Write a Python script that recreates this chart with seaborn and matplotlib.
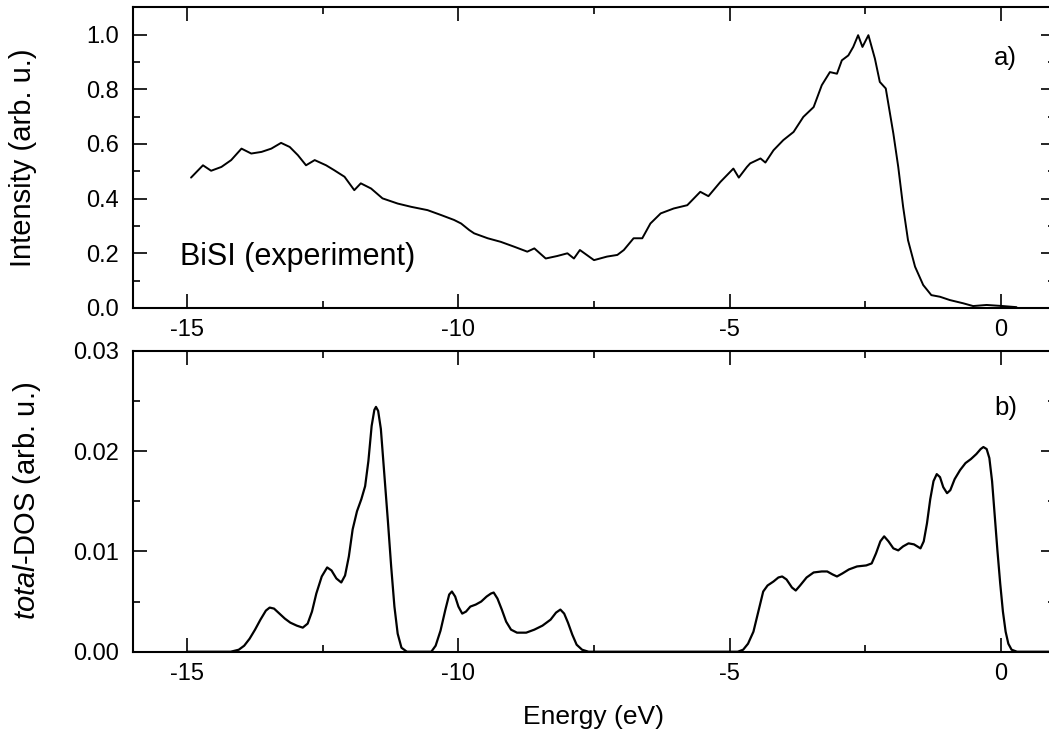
import matplotlib
matplotlib.use("Agg")
import matplotlib.pyplot as plt
from matplotlib.ticker import MultipleLocator, FormatStrFormatter
import seaborn as sns
import pandas as pd

# ---- data ----
exp_energy = [-14.93, -14.71, -14.56, -14.37, -14.19, -14.00, -13.82, -13.63, -13.45, -13.27,
              -13.11, -12.96, -12.81, -12.65, -12.44, -12.29, -12.10, -11.92, -11.80, -11.61,
              -11.40, -11.12, -10.87, -10.57, -10.32, -10.08, -9.95, -9.80, -9.71, -9.46,
              -9.22, -8.97, -8.73, -8.60, -8.39, -8.18, -7.99, -7.87, -7.76, -7.50,
              -7.26, -7.07, -6.95, -6.77, -6.61, -6.46, -6.27, -6.03, -5.78, -5.54,
              -5.39, -5.17, -4.93, -4.83, -4.68, -4.62, -4.43, -4.34, -4.19, -4.01,
              -3.82, -3.64, -3.45, -3.30, -3.15, -3.02, -2.93, -2.81, -2.72, -2.63,
              -2.55, -2.44, -2.32, -2.23, -2.12, -1.98, -1.89, -1.80, -1.71, -1.58,
              -1.43, -1.28, -1.12, -0.94, -0.69, -0.51, -0.26, 0.04, 0.29]
exp_intensity = [0.477, 0.522, 0.502, 0.516, 0.541, 0.583, 0.565, 0.571, 0.583, 0.604,
                 0.589, 0.559, 0.522, 0.541, 0.522, 0.504, 0.480, 0.431, 0.456, 0.437,
                 0.401, 0.382, 0.370, 0.358, 0.340, 0.322, 0.309, 0.285, 0.273, 0.255,
                 0.242, 0.224, 0.206, 0.218, 0.181, 0.190, 0.200, 0.181, 0.212, 0.175,
                 0.188, 0.194, 0.212, 0.255, 0.255, 0.309, 0.346, 0.364, 0.376, 0.425,
                 0.409, 0.461, 0.510, 0.477, 0.516, 0.529, 0.547, 0.532, 0.577, 0.614,
                 0.644, 0.699, 0.735, 0.815, 0.863, 0.857, 0.906, 0.924, 0.955, 0.998,
                 0.955, 0.998, 0.912, 0.827, 0.803, 0.638, 0.516, 0.370, 0.248, 0.151,
                 0.084, 0.047, 0.041, 0.029, 0.017, 0.007, 0.011, 0.007, 0.003]

dos_energy = [-15.00, -14.20, -14.05, -13.95, -13.85, -13.75, -13.65, -13.55, -13.48, -13.40,
              -13.30, -13.20, -13.10, -12.98, -12.87, -12.78, -12.70, -12.62, -12.52, -12.42,
              -12.34, -12.25, -12.16, -12.09, -12.02, -11.95, -11.87, -11.79, -11.72, -11.66,
              -11.60, -11.55, -11.52, -11.48, -11.43, -11.37, -11.30, -11.24, -11.18, -11.12,
              -11.05, -10.95, -10.50, -10.42, -10.33, -10.24, -10.17, -10.12, -10.06, -10.00,
              -9.93, -9.86, -9.78, -9.68, -9.58, -9.48, -9.40, -9.35, -9.28, -9.20,
              -9.12, -9.03, -8.92, -8.75, -8.60, -8.45, -8.30, -8.20, -8.12, -8.05,
              -7.98, -7.90, -7.82, -7.72, -7.60, -4.85, -4.75, -4.66, -4.56, -4.47,
              -4.38, -4.30, -4.19, -4.10, -4.03, -3.95, -3.85, -3.78, -3.70, -3.58,
              -3.45, -3.30, -3.20, -3.10, -3.02, -2.92, -2.80, -2.65, -2.48, -2.38,
              -2.30, -2.22, -2.15, -2.07, -1.98, -1.89, -1.80, -1.70, -1.60, -1.48,
              -1.42, -1.36, -1.30, -1.24, -1.18, -1.12, -1.06, -0.99, -0.93, -0.85,
              -0.75, -0.65, -0.55, -0.45, -0.37, -0.32, -0.26, -0.21, -0.16, -0.11,
              -0.06, -0.01, 0.04, 0.09, 0.14, 0.20, 0.30, 1.00]
dos_value = [0.0, 0.0, 0.0002, 0.0006, 0.0013, 0.0022, 0.0032, 0.0041, 0.0044, 0.0043,
             0.0038, 0.0033, 0.0029, 0.0026, 0.0024, 0.0028, 0.0040, 0.0058, 0.0075, 0.0084,
             0.0081, 0.0073, 0.0069, 0.0076, 0.0095, 0.0122, 0.0140, 0.0152, 0.0165, 0.0190,
             0.0225, 0.0241, 0.0244, 0.0240, 0.0222, 0.0180, 0.0130, 0.0085, 0.0045, 0.0018,
             0.0004, 0.0, 0.0, 0.0006, 0.0021, 0.0042, 0.0057, 0.0060, 0.0055, 0.0045,
             0.0038, 0.0040, 0.0045, 0.0047, 0.0050, 0.0055, 0.0058, 0.0059, 0.0053, 0.0042,
             0.0030, 0.0022, 0.0019, 0.0019, 0.0022, 0.0026, 0.0032, 0.0039, 0.0042, 0.0038,
             0.0029, 0.0017, 0.0007, 0.0002, 0.0, 0.0, 0.0002, 0.0008, 0.0020, 0.0040,
             0.0060, 0.0066, 0.0070, 0.0074, 0.0075, 0.0072, 0.0064, 0.0061, 0.0066, 0.0074,
             0.0079, 0.0080, 0.0080, 0.0077, 0.0075, 0.0078, 0.0082, 0.0085, 0.0086, 0.0088,
             0.0098, 0.0110, 0.0115, 0.0110, 0.0103, 0.0101, 0.0105, 0.0108, 0.0107, 0.0103,
             0.0110, 0.0128, 0.0152, 0.0170, 0.0177, 0.0174, 0.0164, 0.0158, 0.0161, 0.0172,
             0.0181, 0.0188, 0.0192, 0.0197, 0.0202, 0.0204, 0.0202, 0.0193, 0.0170, 0.0135,
             0.0100, 0.0068, 0.0040, 0.0020, 0.0008, 0.0002, 0.0, 0.0]

x_ticks = [-15, -10, -5, 0]

exp_df = pd.DataFrame({"Energy": exp_energy, "Intensity": exp_intensity})
dos_df = pd.DataFrame({"Energy": dos_energy, "DOS": dos_value})

sns.set_style("ticks")
plt.rcParams["font.family"] = ["Liberation Sans", "DejaVu Sans"]
plt.rcParams["mathtext.fontset"] = "custom"
plt.rcParams["mathtext.it"] = "Liberation Sans:italic"
plt.rcParams["mathtext.rm"] = "Liberation Sans"
plt.rcParams["axes.unicode_minus"] = False
plt.rcParams["axes.linewidth"] = 1.5
plt.rcParams["text.color"] = "black"
plt.rcParams["axes.labelcolor"] = "black"
plt.rcParams["xtick.color"] = "black"
plt.rcParams["ytick.color"] = "black"

fig = plt.figure(figsize=(10.49, 7.38), dpi=100)
ax1 = fig.add_axes([0.1268, 0.5827, 0.8789, 0.4074])
ax2 = fig.add_axes([0.1268, 0.1169, 0.8789, 0.4079])

sns.lineplot(data=exp_df, x="Energy", y="Intensity", ax=ax1, color="black",
             linewidth=1.4, estimator=None, sort=False)
sns.lineplot(data=dos_df, x="Energy", y="DOS", ax=ax2, color="black",
             linewidth=1.6, estimator=None, sort=False)

for ax in (ax1, ax2):
    ax.set_xlim(-16, 1)
    ax.set_xticks(x_ticks)
    ax.xaxis.set_minor_locator(MultipleLocator(2.5))
    ax.tick_params(which="both", direction="in", top=True, right=True, width=1.2,
                   labelsize=17, colors="black")
    ax.tick_params(which="major", length=10)
    ax.tick_params(which="minor", length=5)
    ax.tick_params(axis="x", which="major", pad=8)
    ax.tick_params(axis="y", which="major", pad=10)
    for s in ax.spines.values():
        s.set_color("black")

ax1.set_ylim(0, 1.1)
ax1.set_yticks([0.0, 0.2, 0.4, 0.6, 0.8, 1.0])
ax1.yaxis.set_minor_locator(MultipleLocator(0.1))
ax1.yaxis.set_major_formatter(FormatStrFormatter("%.1f"))
ax1.set_xlabel("")
ax1.set_ylabel("Intensity (arb. u.)", fontsize=21)
ax1.yaxis.set_label_coords(-0.104, 0.5)

ax2.set_ylim(0, 0.03)
ax2.set_yticks([0.0, 0.01, 0.02, 0.03])
ax2.yaxis.set_minor_locator(MultipleLocator(0.005))
ax2.yaxis.set_major_formatter(FormatStrFormatter("%.2f"))
ax2.set_ylabel(r"$\it{total}$-DOS (arb. u.)", fontsize=21)
ax2.yaxis.set_label_coords(-0.0976, 0.5)
ax2.set_xlabel("Energy (eV)", fontsize=19)
ax2.xaxis.set_label_coords(0.5, -0.178)

ax1.text(0.946, 0.831, "a)", transform=ax1.transAxes, fontsize=18.5,
         ha="center", va="center")
ax2.text(0.947, 0.810, "b)", transform=ax2.transAxes, fontsize=18.5,
         ha="center", va="center")
ax1.text(-15.14, 0.157, "BiSI (experiment)", fontsize=22, ha="left", va="baseline")

fig.savefig("out.png", dpi=100)
